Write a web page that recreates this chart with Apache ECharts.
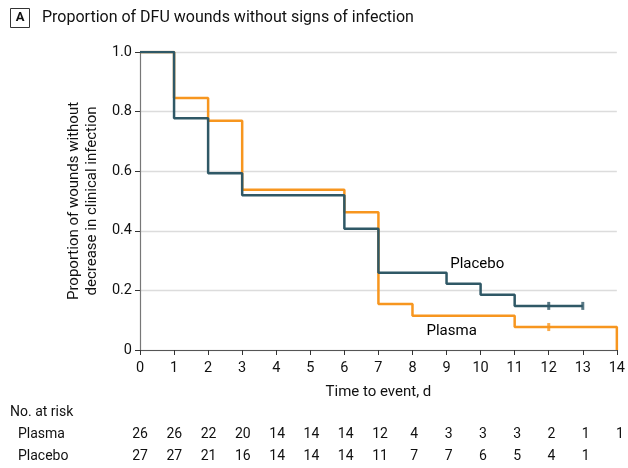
<!DOCTYPE html>
<html><head><meta charset="utf-8">
<script src="https://cdn.jsdelivr.net/npm/echarts@6/dist/echarts.min.js"></script>
<style>html,body{margin:0;padding:0;background:#fff}#c{width:628px;height:468px}</style>
</head><body><div id="c"></div>
<script>
const FONT = 'Roboto, "Noto Sans", sans-serif';
const days = [0,1,2,3,4,5,6,7,8,9,10,11,12,13,14];
const plasmaTimes = [0,1,2,3,6,7,8,11,14,14];
const plasmaSurv = [1.0,0.846,0.769,0.538,0.462,0.154,0.115,0.077,0.077,0];
const placeboTimes = [0,1,2,3,6,7,9,10,11,13];
const placeboSurv = [1.0,0.778,0.593,0.519,0.407,0.259,0.222,0.185,0.148,0.148];
const plasmaCensorT = [12];
const plasmaCensorS = [0.077];
const placeboCensorT = [12,13];
const placeboCensorS = [0.148,0.148];
const plasmaRisk = [26,26,22,20,14,14,14,12,4,3,3,3,2,1,1];
const placeboRisk = [27,27,21,16,14,14,14,11,7,7,6,5,4,1,null];
const seriesNames = ['Plasma','Placebo'];
const labelPos = [[9.15,0.064],[9.9,0.289]];

const ORANGE = '#F7961F', TEAL = '#2F5866';
const chart = echarts.init(document.getElementById('c'));
const zip = (a,b)=>a.map((v,i)=>[v,b[i]]);
const riskData = (arr,row)=>arr.map((v,i)=>v==null?null:[days[i],row,v]).filter(Boolean);
const TXT = {fontFamily:FONT,fontSize:14,color:'#111',opacity:1};
const HIDDEN = {color:'rgba(0,0,0,0)'};

chart.setOption({
  animation:false,
  textStyle:{fontFamily:FONT},
  grid:[
    {left:140,right:8,top:52,bottom:118,containLabel:false},
    {left:140,right:8,top:423,height:44}
  ],
  xAxis:[
    {gridIndex:0,type:'value',min:0,max:14,interval:1,
     name:'Time to event, d',nameLocation:'middle',nameGap:35,
     nameTextStyle:{fontFamily:FONT,fontSize:15,color:'#111'},
     axisLine:{lineStyle:{color:'#555',width:1.2}},
     axisTick:{lineStyle:{color:'#333'},length:5},
     axisLabel:{fontFamily:FONT,fontSize:14.5,color:'#111',margin:11},
     splitLine:{show:false}},
    {gridIndex:1,type:'value',min:0,max:14,interval:1,show:false}
  ],
  yAxis:[
    {gridIndex:0,type:'value',min:0,max:1,interval:0.2,
     name:'Proportion of wounds without\ndecrease in clinical infection',
     nameLocation:'middle',nameGap:33,
     nameTextStyle:{fontFamily:FONT,fontSize:15,color:'#111',lineHeight:18},
     axisLine:{show:true,lineStyle:{color:'#777',width:1.2}},
     axisTick:{show:true,lineStyle:{color:'#333'},length:5},
     axisLabel:{fontFamily:FONT,fontSize:14.5,color:'#111',margin:8,
       formatter:v=>v===0?'0':v.toFixed(1)},
     splitLine:{show:true,lineStyle:{color:'#dcdcdc',width:1.3}}},
    {gridIndex:1,type:'value',min:0,max:2,show:false}
  ],
  graphic:[
    {type:'rect',shape:{x:10.5,y:8.5,width:19,height:19},style:{fill:'#fff',stroke:'#333',lineWidth:1}},
    {type:'text',x:20,y:18,style:{text:'A',fontFamily:FONT,fontSize:13,fontWeight:'bold',fill:'#111',align:'center',verticalAlign:'middle'}},
    {type:'text',x:42,y:18,style:{text:'Proportion of DFU wounds without signs of infection',fontFamily:FONT,fontSize:16,fill:'#111',verticalAlign:'middle'}},
    {type:'text',x:10,y:412,style:{text:'No. at risk',fontFamily:FONT,fontSize:14,fill:'#111',verticalAlign:'middle'}},
    {type:'text',x:18,y:434,style:{text:'Plasma',fontFamily:FONT,fontSize:14,fill:'#111',verticalAlign:'middle'}},
    {type:'text',x:18,y:456,style:{text:'Placebo',fontFamily:FONT,fontSize:14,fill:'#111',verticalAlign:'middle'}}
  ],
  series:[
    {type:'line',xAxisIndex:0,yAxisIndex:0,step:'end',symbol:'none',
     data:zip(plasmaTimes,plasmaSurv),lineStyle:{color:ORANGE,width:2.5},z:2},
    {type:'line',xAxisIndex:0,yAxisIndex:0,step:'end',symbol:'none',
     data:zip(placeboTimes,placeboSurv),lineStyle:{color:TEAL,width:2.5},z:3},
    {type:'scatter',xAxisIndex:0,yAxisIndex:0,symbol:'rect',symbolSize:[3,8],
     data:zip(plasmaCensorT,plasmaCensorS),itemStyle:{color:ORANGE},z:4},
    {type:'scatter',xAxisIndex:0,yAxisIndex:0,symbol:'rect',symbolSize:[3,8],
     data:zip(placeboCensorT,placeboCensorS),itemStyle:{color:TEAL},z:5},
    {type:'scatter',xAxisIndex:0,yAxisIndex:0,symbolSize:0,itemStyle:HIDDEN,
     data:labelPos.map((p,i)=>[p[0],p[1],seriesNames[i]]),
     label:{show:true,position:'inside',formatter:p=>p.value[2],...TXT,fontSize:15,color:'#000'},z:6},
    {type:'scatter',xAxisIndex:1,yAxisIndex:1,symbolSize:0,itemStyle:HIDDEN,data:riskData(plasmaRisk,1.5),
     label:{show:true,position:'inside',formatter:p=>p.value[2],...TXT}},
    {type:'scatter',xAxisIndex:1,yAxisIndex:1,symbolSize:0,itemStyle:HIDDEN,data:riskData(placeboRisk,0.5),
     label:{show:true,position:'inside',formatter:p=>p.value[2],...TXT}}
  ]
});
</script></body></html>
